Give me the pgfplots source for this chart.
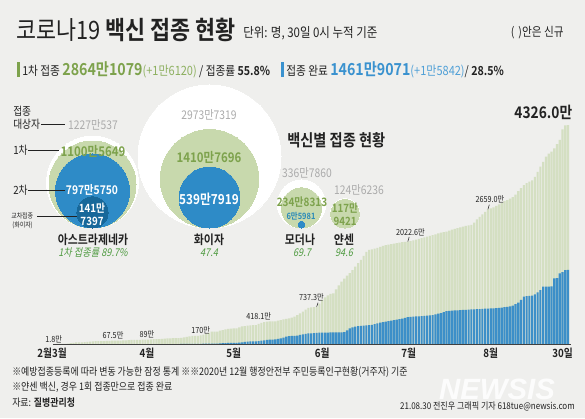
\documentclass[border=0pt]{standalone}
\usepackage{pgfplots}
\pgfplotsset{compat=1.18}
\usepackage{pgfplotstable}
\usepackage{fontspec}
\setmainfont{Noto Sans CJK KR}[FakeStretch=0.86,
  BoldFont={Noto Sans CJK KR Bold},
  ItalicFont={Noto Sans CJK KR}, ItalicFeatures={FakeSlant=0.2},
  BoldItalicFont={Noto Sans CJK KR Bold}, BoldItalicFeatures={FakeSlant=0.2}]
\newfontfamily\wmfont{Liberation Sans}
\newcommand\fs[1]{\fontsize{#1}{#1}\selectfont}
\definecolor{bg}{RGB}{239,239,237}
\definecolor{gbar}{RGB}{212,223,194}
\definecolor{bbar}{RGB}{60,143,200}
\definecolor{gcirc}{RGB}{200,217,173}
\definecolor{bcirc}{RGB}{46,139,199}
\definecolor{dcirc}{RGB}{23,104,154}
\definecolor{gnum}{RGB}{125,162,76}
\definecolor{glight}{RGB}{141,176,96}
\definecolor{gital}{RGB}{78,154,64}
\definecolor{bnum}{RGB}{58,146,207}
\definecolor{blight}{RGB}{80,160,215}
\definecolor{gtxt}{RGB}{171,171,171}
\definecolor{teal}{RGB}{42,138,184}
\definecolor{txt}{RGB}{34,34,34}

\pgfplotstableread{
d g b
0 1.8 0
1 2.1 0
2 2.2 0
3 3.6 0
4 8.8 0
5 18.0 0
6 24.6 0
7 31.5 0
8 31.9 0
9 32.0 0
10 38.6 0
11 43.4 0
12 48.3 0
13 50.6 0
14 55.2 0
15 55.4 0
16 55.5 0
17 58.4 0
18 61.0 0
19 63.4 0
20 67.5 0
21 68.2 0
22 68.3 0
23 68.4 0
24 69.8 0
25 73.3 0
26 77.3 0
27 80.1 0
28 81.9 0
29 82.0 0
30 82.1 0
31 84.3 0
32 86.0 0
33 89.0 0
34 92.3 0
35 95.5 0
36 96.0 0
37 96.2 0
38 100.1 0
39 106.6 0
40 110.0 0
41 112.0 0
42 114.8 0
43 114.9 0
44 115.0 0
45 122 1
46 132 1.5
47 142 2
48 151 3
49 161 4
50 162 4
51 163 4
52 170 5
53 187 6
54 205 7
55 220 8
56 243 9
57 245 9
58 246 9
59 262 12
60 275 15
61 288 18
62 300 21
63 305 23
64 310 24
65 311 24
66 330 28
67 348 34
68 355 40
69 365 45
70 370 50
71 372 51
72 373 51
73 400 58
74 418.1 65
75 430 72
76 440 80
77 445 88
78 447 89
79 448 90
80 460 100
81 474 112
82 485 125
83 495 145
84 505 155
85 520 160
86 540 162
87 570 168
88 605 178
89 640 190
90 680 200
91 715 210
92 725 212
93 730 213
94 737.3 220
95 800 225
96 870 226
97 920 227
98 960 227
99 990 228
100 1000 228
101 1080 229
102 1160 229
103 1230 230
104 1290 235
105 1350 270
106 1400 310
107 1460 330
108 1530 345
109 1600 355
110 1660 360
111 1740 365
112 1820 370
113 1860 375
114 1870 380
115 1885 395
116 1900 410
117 1920 420
118 1940 430
119 1955 440
120 1965 450
121 1975 460
122 1985 470
123 1995 480
124 2005 490
125 2012 500
126 2018 515
127 2022.6 530
128 2030 535
129 2045 540
130 2060 545
131 2075 548
132 2090 552
133 2105 556
134 2120 560
135 2135 565
136 2150 570
137 2165 585
138 2185 600
139 2200 612
140 2210 630
141 2220 650
142 2240 655
143 2260 660
144 2275 663
145 2290 666
146 2305 670
147 2320 673
148 2335 676
149 2345 679
150 2355 682
151 2400 685
152 2460 688
153 2511 691
154 2560 694
155 2610 697
156 2659.0 700
157 2680 703
158 2700 705
159 2730 707
160 2760 712
161 2790 720
162 2820 728
163 2844 735
164 2870 745
165 2900 760
166 2950 790
167 3020 817
168 3080 870
169 3140 935
170 3180 945
171 3207 950
172 3230 955
173 3300 980
174 3400 1020
175 3503 1066
176 3600 1132
177 3700 1132
178 3760 1135
179 3800 1140
180 3865 1297
181 3950 1300
182 4030 1396
183 4240 1420
184 4320 1461
185 4326.0 1461.9
}\daily

% bubbles: x centre (px), bottom (px), value (10k persons)
\pgfplotstableread{
x bot v
92.5 228 1227.0537
209.5 228 2973.7319
301.5 228 336.7860
345 228 124.6236
}\target
\pgfplotstableread{
x bot v
92.5 228 1100.5649
209.5 228 1410.7696
301.5 228 234.8313
345 228 117.9421
}\first
\pgfplotstableread{
x bot v
92.5 228 797.5750
209.5 228 539.7919
301.5 228 6.5981
}\second
\pgfplotstableread{
x bot v
92.5 228 141.7397
}\cross

\pgfplotsset{bubble/.style={scatter,only marks,mark=*,
  scatter/use mapped color={draw=#1,fill=#1,line width=0pt},
  visualization depends on={sqrt(\thisrow{v}/1100.5649)*32.625 \as \rad},
  scatter/@pre marker code/.append style={/tikz/mark size=\rad pt}}}

\begin{document}
\begin{tikzpicture}[x=0.75pt,y=-0.75pt]
\fill[bg] (0,0) rectangle (585,418);
\useasboundingbox (0,0) rectangle (585,418);

% ---------- header ----------
\node[anchor=west,inner sep=0,text=txt] at (16,30) {\fs{19}코로나19 \textbf{백신 접종 현황}};
\node[anchor=west,inner sep=0,text=txt] at (243,33) {\fs{10}단위: 명, 30일 0시 누적 기준};
\node[anchor=east,inner sep=0,text=txt] at (564,33) {\fs{9.3}(\,\,)안은 신규};
\fill[gnum] (17,62) rectangle (19.5,77);
\fill[bnum] (281,62) rectangle (283.5,77);
\node[anchor=west,inner sep=0,text=txt] at (22,69.5) {\fs{9.3}1차 접종 {\fs{12.4}\bfseries\color{gnum}2864만1079}{\fs{9.6}\color{glight}(+1만6120)} / 접종률 \textbf{55.8\%}};
\node[anchor=west,inner sep=0,text=txt] at (286,69.5) {\fs{9.3}접종 완료 {\fs{12.4}\bfseries\color{bnum}1461만9071}{\fs{9.6}\color{blight}(+1만5842)}/ \textbf{28.5\%}};

% ---------- bubbles ----------
\begin{axis}[at={(0pt,0pt)},anchor=north west,scale only axis,
  width=438.75pt,height=313.5pt,xmin=0,xmax=585,ymin=0,ymax=418,
  y dir=reverse,hide axis,clip=false]
\addplot[bubble=white]
  table[x=x,y expr={\thisrow{bot}-sqrt(\thisrow{v}/1100.5649)*43.5}] {\target};
\addplot[bubble=gcirc]
  table[x=x,y expr={\thisrow{bot}-sqrt(\thisrow{v}/1100.5649)*43.5}] {\first};
\addplot[bubble=bcirc]
  table[x=x,y expr={\thisrow{bot}-sqrt(\thisrow{v}/1100.5649)*43.5}] {\second};
\addplot[bubble=dcirc]
  table[x=x,y expr={\thisrow{bot}-sqrt(\thisrow{v}/1100.5649)*43.5}] {\cross};
\end{axis}

% left legend labels
\begin{scope}[every node/.style={inner sep=0,text=txt}]
\node[anchor=west] at (13,111) {\fs{8.5}접종};
\node[anchor=west] at (13,124) {\fs{8.5}대상자};
\draw[txt,line width=0.5pt] (41,124) -- (65,124);
\node[anchor=west] at (13,150) {\fs{8.5}1차};
\draw[txt,line width=0.5pt] (28,150) -- (59,150);
\node[anchor=west] at (13,190) {\fs{8.5}2차};
\draw[txt,line width=0.5pt] (28,190) -- (65,190);
\node[anchor=west] at (11,216) {\fs{5.2}교차접종};
\node[anchor=west] at (12,225) {\fs{5.2}(화이자)};
\draw[txt,line width=0.5pt] (37,216) -- (77,216);
\end{scope}

% bubble labels
\begin{scope}[every node/.style={inner sep=0}]
\node[text=gtxt] at (93,125) {\fs{9}1227만537};
\node[text=gnum] at (93,151) {\fs{10}\bfseries 1100만5649};
\node[text=white] at (92,190) {\fs{9}\bfseries 797만5750};
\node[text=white] at (92,208) {\fs{8.5}\bfseries 141만};
\node[text=white] at (92,221) {\fs{8.5}\bfseries 7397};
\node[text=txt] at (93,240) {\fs{9.5}\bfseries 아스트라제네카};
\node[text=gital] at (93,253) {\fs{8}\itshape 1차 접종률 89.7\%};

\node[text=gtxt] at (209,115) {\fs{9}2973만7319};
\node[text=gnum] at (209,157) {\fs{10}\bfseries 1410만7696};
\node[text=white] at (209,199) {\fs{10.3}\bfseries 539만7919};
\node[text=txt] at (209,240) {\fs{9.5}\bfseries 화이자};
\node[text=gital] at (209,253) {\fs{8}\itshape 47.4};

\node[text=gtxt] at (307,173) {\fs{9}336만7860};
\node[text=gnum] at (302,202) {\fs{8.7}\bfseries 234만8313};
\node[text=teal] at (301,216) {\fs{6.5}\bfseries 6만5981};
\node[text=txt] at (300,240) {\fs{9.5}\bfseries 모더나};
\node[text=gital] at (302,253) {\fs{8}\itshape 69.7};

\node[text=gtxt] at (359,190) {\fs{9}124만6236};
\node[text=gnum] at (345,208) {\fs{8.5}\bfseries 117만};
\node[text=gnum] at (345,221) {\fs{8.5}\bfseries 9421};
\node[text=txt] at (344,240) {\fs{9.5}\bfseries 얀센};
\node[text=gital] at (344,253) {\fs{8}\itshape 94.6};

\node[anchor=west,text=txt] at (287,140) {\fs{12.4}\bfseries 백신별 접종 현황};
\end{scope}

% ---------- bars ----------
\begin{axis}[at={(41.7pt,-258pt)},anchor=south west,scale only axis,
  width=385.35pt,height=164.25pt,xmin=-0.5,xmax=185.5,ymin=0,ymax=4326,
  hide axis,clip=false]
\addplot[ybar,bar width=0.78,fill=gbar,draw=none] table[x=d,y=g] {\daily};
\addplot[ybar,bar width=0.78,fill=bbar,draw=none] table[x=d,y=b] {\daily};
\draw[black!75,line width=0.6pt] (axis cs:-1.5,0) -- (axis cs:186,0);
\begin{scope}[every node/.style={inner sep=0.8pt,text=txt,font=\fs{6.3}}]
\node[anchor=south,xshift=-2.5pt] at (axis cs:0,1.8) {1.8만};
\node[anchor=south] at (axis cs:20.3,67.5) {67.5만};
\node[anchor=south] at (axis cs:32.6,89) {89만};
\node[anchor=south] at (axis cs:52,170) {170만};
\node[anchor=south,yshift=1pt] at (axis cs:73,418.1) {418.1만};
\draw[txt,line width=0.4pt] (axis cs:94,737.3) -- ++(0,3pt) node[anchor=south,xshift=-5pt] {737.3만};
\draw[txt,line width=0.4pt] (axis cs:127,2022.6) -- ++(0,3.5pt) node[anchor=south,xshift=1pt] {2022.6만};
\draw[txt,line width=0.4pt] (axis cs:156,2659) -- ++(0,3.5pt) node[anchor=south,xshift=0.5pt] {2659.0만};
\end{scope}
\node[anchor=south east,inner sep=0,text=txt] at (axis cs:186.6,4326) [yshift=4pt] {\fs{12}\bfseries 4326.0만};
\begin{scope}[every node/.style={inner sep=0,text=txt,font=\fs{8.5}\bfseries,yshift=-6.8pt}]
\node at (axis cs:-1.8,0) {2월3월};
\node at (axis cs:32.6,0) {4월};
\node at (axis cs:64,0) {5월};
\node at (axis cs:96,0) {6월};
\node at (axis cs:127.3,0) {7월};
\node at (axis cs:157,0) {8월};
\node at (axis cs:183,0) {30일};
\end{scope}
\end{axis}

% ---------- footer ----------
\node[text=white,opacity=0.85,inner sep=0] at (497,389.5) {\wmfont\fs{22}\bfseries\itshape NEWSIS};
\begin{scope}[every node/.style={inner sep=0,text=txt,anchor=west}]
\node at (12,372) {\fs{7.8}※예방접종등록에 따라 변동 가능한 잠정 통계 ※※2020년 12월 행정안전부 주민등록인구현황(거주자) 기준};
\node at (12,387) {\fs{7.8}※얀센 백신, 경우 1회 접종만으로 접종 완료};
\node at (12,403) {\fs{7.8}자료: \textbf{질병관리청}};
\node[anchor=east] at (575,406.5) {\fs{7}21.08.30 전진우 그래픽 기자 618tue@newsis.com};
\end{scope}
\end{tikzpicture}
\end{document}
